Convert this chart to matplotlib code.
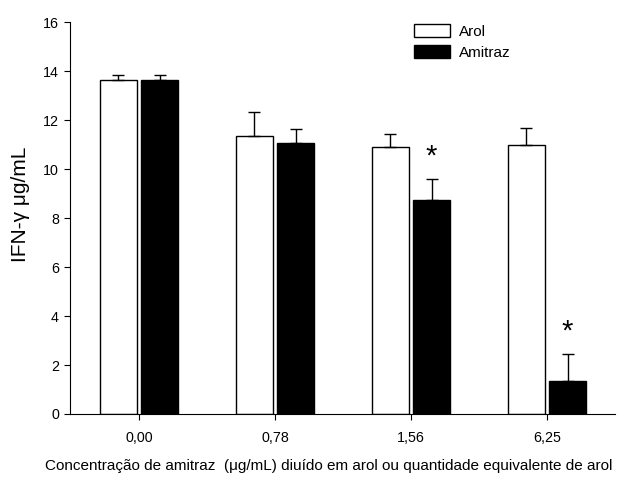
import numpy as np
import matplotlib
matplotlib.use("Agg")
from matplotlib import pyplot as plt

plt.rcParams["font.family"] = ["Liberation Sans", "DejaVu Sans"]

groups = ["0,00", "0,78", "1,56", "6,25"]
arol = [13.63, 11.35, 10.91, 11.00]
arol_err = [0.21, 0.98, 0.52, 0.69]
amitraz = [13.63, 11.05, 8.72, 1.36]
amitraz_err = [0.21, 0.57, 0.87, 1.10]
signif = [False, False, True, True]

fig = plt.figure(figsize=(6.2, 4.79), dpi=100)
ax = fig.add_axes([0.113, 0.1357, 0.879, 0.818])

x = np.arange(len(groups))
w = 0.272
gap = 0.015
err_kw = dict(ecolor="black", elinewidth=1, capsize=4, capthick=1)

ax.bar(x - w / 2 - gap, arol, w, color="white", edgecolor="black", linewidth=1,
       yerr=[np.zeros(len(arol)), arol_err], error_kw=err_kw, label="Arol", zorder=2)
ax.bar(x + w / 2 + gap, amitraz, w, color="black", edgecolor="black", linewidth=1,
       yerr=[np.zeros(len(amitraz)), amitraz_err], error_kw=err_kw, label="Amitraz", zorder=2)

# asterisco = diferença significativa
for i, s in enumerate(signif):
    if s:
        ax.text(x[i] + w / 2 + gap, amitraz[i] + amitraz_err[i] + 0.35, "*",
                ha="center", va="bottom", fontsize=21)

ax.set_xlim(-0.507, 3.5)
ax.set_ylim(0, 16)
ax.set_yticks(range(0, 17, 2))
ax.set_xticks(x)
ax.set_xticklabels(groups)
ax.tick_params(direction="out", length=4, labelsize=10.3)
ax.tick_params(axis="x", pad=8)
ax.tick_params(axis="y", pad=4)
ax.spines["top"].set_visible(False)
ax.spines["right"].set_visible(False)

ax.set_ylabel("IFN-γ μg/mL", fontsize=15)
ax.yaxis.set_label_coords(-0.074, 0.535)

ax.set_xlabel("Concentração de amitraz  (μg/mL) diuído em arol ou quantidade equivalente de arol",
              fontsize=10.95)
ax.xaxis.set_label_coords(0.474, -0.115)

ax.legend(loc="upper left", bbox_to_anchor=(0.605, 1.03), frameon=False, fontsize=11,
          handlelength=2.4, handleheight=0.9, labelspacing=0.42, handletextpad=0.6)

plt.savefig("out.png", dpi=100)
plt.close()
